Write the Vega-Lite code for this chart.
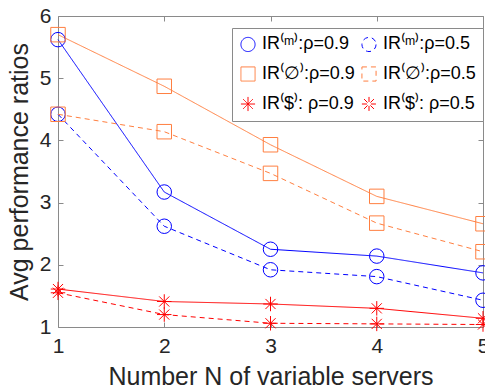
{
  "$schema": "https://vega.github.io/schema/vega-lite/v6.json",
  "width": 425,
  "height": 311,
  "autosize": "none",
  "padding": {"left": 58, "top": 16, "right": 2, "bottom": 64},
  "config": {
    "font": "Liberation Sans",
    "view": {"stroke": "#8a8a8a", "strokeWidth": 1},
    "axis": {"domain": false, "grid": false, "labelColor": "#262626", "titleColor": "#262626", "labelFontSize": 21, "titleFontSize": 25, "titleFontWeight": "normal", "tickColor": "#8a8a8a", "tickSize": -5, "labelPadding": 12}
  },
  "data": {"values": [
    {"s": "IR⁽ᵐ⁾:ρ=0.9", "N": 1, "v": 5.62}, {"s": "IR⁽ᵐ⁾:ρ=0.9", "N": 2, "v": 3.17}, {"s": "IR⁽ᵐ⁾:ρ=0.9", "N": 3, "v": 2.25}, {"s": "IR⁽ᵐ⁾:ρ=0.9", "N": 4, "v": 2.14}, {"s": "IR⁽ᵐ⁾:ρ=0.9", "N": 5, "v": 1.87},
    {"s": "IR⁽ᵐ⁾:ρ=0.5", "N": 1, "v": 4.42}, {"s": "IR⁽ᵐ⁾:ρ=0.5", "N": 2, "v": 2.62}, {"s": "IR⁽ᵐ⁾:ρ=0.5", "N": 3, "v": 1.92}, {"s": "IR⁽ᵐ⁾:ρ=0.5", "N": 4, "v": 1.81}, {"s": "IR⁽ᵐ⁾:ρ=0.5", "N": 5, "v": 1.43},
    {"s": "IR⁽∅⁾:ρ=0.9", "N": 1, "v": 5.70}, {"s": "IR⁽∅⁾:ρ=0.9", "N": 2, "v": 4.87}, {"s": "IR⁽∅⁾:ρ=0.9", "N": 3, "v": 3.93}, {"s": "IR⁽∅⁾:ρ=0.9", "N": 4, "v": 3.10}, {"s": "IR⁽∅⁾:ρ=0.9", "N": 5, "v": 2.66},
    {"s": "IR⁽∅⁾:ρ=0.5", "N": 1, "v": 4.42}, {"s": "IR⁽∅⁾:ρ=0.5", "N": 2, "v": 4.14}, {"s": "IR⁽∅⁾:ρ=0.5", "N": 3, "v": 3.47}, {"s": "IR⁽∅⁾:ρ=0.5", "N": 4, "v": 2.67}, {"s": "IR⁽∅⁾:ρ=0.5", "N": 5, "v": 2.21},
    {"s": "IR⁽$⁾: ρ=0.9", "N": 1, "v": 1.61}, {"s": "IR⁽$⁾: ρ=0.9", "N": 2, "v": 1.41}, {"s": "IR⁽$⁾: ρ=0.9", "N": 3, "v": 1.37}, {"s": "IR⁽$⁾: ρ=0.9", "N": 4, "v": 1.30}, {"s": "IR⁽$⁾: ρ=0.9", "N": 5, "v": 1.14},
    {"s": "IR⁽$⁾: ρ=0.5", "N": 1, "v": 1.55}, {"s": "IR⁽$⁾: ρ=0.5", "N": 2, "v": 1.20}, {"s": "IR⁽$⁾: ρ=0.5", "N": 3, "v": 1.06}, {"s": "IR⁽$⁾: ρ=0.5", "N": 4, "v": 1.05}, {"s": "IR⁽$⁾: ρ=0.5", "N": 5, "v": 1.04}
  ]},
  "layer": [
    {
      "encoding": {
        "x": {"field": "N", "type": "quantitative", "scale": {"domain": [1, 5], "nice": false, "zero": false}, "axis": {"values": [1, 2, 3, 4, 5], "title": "Number N of variable servers", "titlePadding": 8, "labelPadding": 13, "labelFlush": false}},
        "y": {"field": "v", "type": "quantitative", "scale": {"domain": [1, 6], "nice": false, "zero": false}, "axis": {"values": [1, 2, 3, 4, 5, 6], "title": "Avg performance ratios", "titlePadding": 7, "labelFlush": false}},
        "color": {"field": "s", "type": "nominal", "scale": {"domain": ["IR⁽ᵐ⁾:ρ=0.9", "IR⁽∅⁾:ρ=0.9", "IR⁽$⁾: ρ=0.9", "IR⁽ᵐ⁾:ρ=0.5", "IR⁽∅⁾:ρ=0.5", "IR⁽$⁾: ρ=0.5"], "range": ["#0000ff", "#ff7f40", "#ff0000", "#0000ff", "#ff7f40", "#ff0000"]},
          "legend": {"title": null, "orient": "none", "legendX": 174, "legendY": 12, "columns": 2, "labelFontSize": 18, "labelColor": "#000000", "symbolSize": 200, "symbolStrokeWidth": 1, "rowPadding": 10, "columnPadding": 4, "padding": 7, "labelOffset": 5, "strokeColor": "#8a8a8a", "fillColor": "#ffffff", "labelLimit": 300, "symbolFillColor": "transparent"}}
      },
      "layer": [
        {
          "mark": {"type": "line", "strokeWidth": 1},
          "encoding": {
            "strokeDash": {"field": "s", "type": "nominal", "scale": {"domain": ["IR⁽ᵐ⁾:ρ=0.9", "IR⁽∅⁾:ρ=0.9", "IR⁽$⁾: ρ=0.9", "IR⁽ᵐ⁾:ρ=0.5", "IR⁽∅⁾:ρ=0.5", "IR⁽$⁾: ρ=0.5"], "range": [[1, 0], [1, 0], [1, 0], [5, 4], [5, 4], [5, 4]]}, "legend": null}
          }
        },
        {
          "mark": {"type": "point", "filled": false, "strokeWidth": 1, "size": 210, "opacity": 1},
          "encoding": {
            "shape": {"field": "s", "type": "nominal", "scale": {"domain": ["IR⁽ᵐ⁾:ρ=0.9", "IR⁽∅⁾:ρ=0.9", "IR⁽$⁾: ρ=0.9", "IR⁽ᵐ⁾:ρ=0.5", "IR⁽∅⁾:ρ=0.5", "IR⁽$⁾: ρ=0.5"], "range": ["circle", "square", "M-1,0L1,0M0,-1L0,1M-0.7,-0.7L0.7,0.7M-0.7,0.7L0.7,-0.7", "circle", "square", "M-1,0L1,0M0,-1L0,1M-0.7,-0.7L0.7,0.7M-0.7,0.7L0.7,-0.7"]}}
          }
        }
      ]
    },
    {
      "mark": {"type": "point", "opacity": 0},
      "encoding": {
        "x": {"field": "N", "type": "quantitative", "axis": {"orient": "top", "values": [1, 2, 3, 4, 5], "labels": false, "title": null}},
        "y": {"field": "v", "type": "quantitative", "axis": {"orient": "right", "values": [1, 2, 3, 4, 5, 6], "labels": false, "title": null}}
      }
    }
  ],
  "resolve": {"axis": {"x": "independent", "y": "independent"}}
}
